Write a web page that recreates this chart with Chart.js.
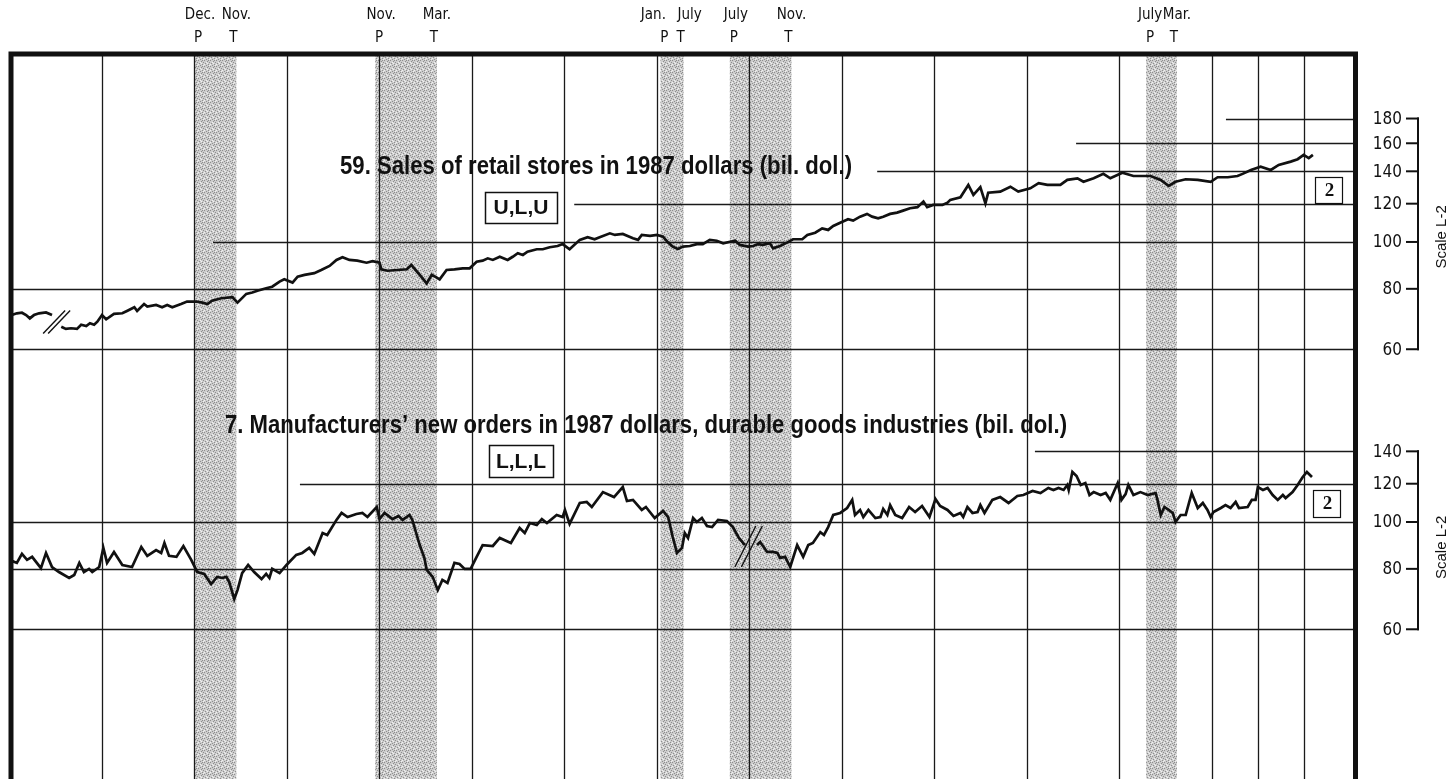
<!DOCTYPE html>
<html>
<head>
<meta charset="utf-8">
<script src="https://cdn.jsdelivr.net/npm/chart.js@4.4.0/dist/chart.umd.min.js"></script>
<style>
  html, body { margin: 0; padding: 0; background: #fff; }
  #wrap { position: relative; width: 1453px; height: 779px; }
</style>
</head>
<body>
<div id="wrap"><canvas id="chart"></canvas></div>
<script>
// 59. Sales of retail stores, 1987 dollars (bil. dol.) -- null marks the series break
var salesYears = [
  1966.06, 1966.17, 1966.28, 1966.37, 1966.45, 1966.54, 1966.65, 1966.80, 1966.93, 1967.03,
  1967.13, 1967.23, 1967.34, 1967.47, 1967.56, 1967.67, 1967.75, 1967.84, 1967.91, 1968.01,
  1968.10, 1968.27, 1968.45, 1968.55, 1968.71, 1968.77, 1968.92, 1968.99, 1969.18, 1969.31,
  1969.42, 1969.53, 1969.72, 1969.85, 1970.05, 1970.18, 1970.29, 1970.39, 1970.59, 1970.83,
  1970.94, 1971.13, 1971.26, 1971.37, 1971.56, 1971.69, 1971.85, 1971.95, 1972.13, 1972.24,
  1972.39, 1972.60, 1972.75, 1972.93, 1973.08, 1973.21, 1973.36, 1973.53, 1973.73, 1973.86,
  1974.01, 1974.05, 1974.18, 1974.40, 1974.60, 1974.70, 1974.88, 1975.03, 1975.14, 1975.24,
  1975.31, 1975.46, 1975.63, 1975.81, 1975.96, 1976.11, 1976.24, 1976.35, 1976.46, 1976.61,
  1976.78, 1976.89, 1977.00, 1977.11, 1977.21, 1977.41, 1977.54, 1977.69, 1977.86, 1977.97,
  1978.12, 1978.34, 1978.51, 1978.66, 1978.77, 1978.99, 1979.10, 1979.27, 1979.49, 1979.60,
  1979.68, 1979.86, 1980.01, 1980.14, 1980.25, 1980.35, 1980.46, 1980.57, 1980.72, 1980.87,
  1981.00, 1981.15, 1981.30, 1981.44, 1981.59, 1981.70, 1981.80, 1981.98, 1982.09, 1982.19,
  1982.30, 1982.45, 1982.52, 1982.67, 1982.82, 1982.95, 1983.15, 1983.26, 1983.43, 1983.58,
  1983.71, 1983.82, 1983.97, 1984.14, 1984.25, 1984.40, 1984.55, 1984.66, 1984.79, 1984.90,
  1985.05, 1985.20, 1985.33, 1985.48, 1985.64, 1985.77, 1985.85, 1985.98, 1986.18, 1986.29,
  1986.35, 1986.57, 1986.74, 1986.85, 1987.00, 1987.11, 1987.17, 1987.43, 1987.65, 1987.82,
  1988.08, 1988.26, 1988.45, 1988.73, 1988.88, 1989.10, 1989.23, 1989.45, 1989.66, 1989.81,
  1990.07, 1990.31, 1990.68, 1990.90, 1991.07, 1991.22, 1991.44, 1991.70, 1991.98, 1992.13,
  1992.35, 1992.56, 1992.67, 1992.85, 1993.06, 1993.28, 1993.45, 1993.71, 1993.86, 1993.99,
  1994.10, 1994.19
];
var salesValues = [
  70.6, 71.2, 71.4, 70.6, 69.5, 70.6, 71.2, 71.5, 70.6, null,
  66.8, 66.1, 66.3, 66.1, 67.4, 67.0, 67.9, 67.4, 68.4, 70.6,
  69.2, 71.0, 71.2, 72.0, 73.3, 72.0, 74.4, 73.5, 74.1, 73.3,
  74.1, 73.3, 74.4, 75.3, 75.3, 74.9, 74.4, 75.6, 76.5, 76.9,
  74.9, 78.1, 78.6, 79.3, 80.2, 80.8, 82.8, 83.7, 82.4, 84.8,
  85.5, 86.2, 87.5, 89.2, 91.8, 93.0, 91.8, 91.5, 90.6, 91.3,
  90.6, 87.8, 87.2, 87.5, 87.8, 89.6, 85.5, 82.1, 85.5, 84.5,
  83.7, 87.5, 87.8, 88.2, 88.2, 91.0, 91.5, 92.5, 91.8, 93.2,
  91.8, 93.2, 94.8, 94.0, 95.5, 96.6, 96.6, 97.5, 98.1, 99.0,
  96.6, 101.0, 102.3, 101.3, 102.3, 104.2, 103.4, 103.9, 101.8, 101.0,
  103.4, 102.9, 103.4, 102.6, 99.7, 97.8, 96.7, 97.8, 98.1, 99.0,
  99.0, 101.0, 100.6, 99.4, 100.1, 100.6, 98.6, 97.8, 98.1, 99.0,
  98.6, 99.4, 97.0, 98.1, 99.7, 101.3, 101.3, 103.4, 104.5, 106.7,
  105.9, 107.9, 109.6, 111.4, 110.7, 112.8, 114.3, 112.8, 111.9, 112.8,
  114.3, 115.0, 116.1, 117.4, 118.0, 121.2, 118.0, 119.3, 119.3, 120.6,
  122.2, 123.7, 131.2, 125.1, 129.8, 120.2, 126.4, 127.1, 130.1, 127.1,
  129.1, 132.3, 131.2, 131.2, 134.4, 135.4, 133.2, 135.4, 138.3, 135.4,
  139.1, 136.9, 136.9, 134.4, 130.6, 133.2, 134.8, 134.4, 133.2, 136.1,
  136.1, 136.9, 138.3, 140.9, 143.1, 140.9, 144.3, 146.6, 148.3, 151.4,
  149.1, 151.4
];

// 7. Manufacturers' new orders, durable goods, 1987 dollars (bil. dol.)
var ordersYears = [
  1966.06, 1966.17, 1966.28, 1966.39, 1966.50, 1966.69, 1966.80, 1966.93, 1967.08, 1967.30,
  1967.41, 1967.52, 1967.62, 1967.73, 1967.80, 1967.95, 1968.04, 1968.12, 1968.27, 1968.45,
  1968.66, 1968.86, 1968.99, 1969.18, 1969.29, 1969.36, 1969.46, 1969.62, 1969.77, 1969.94,
  1970.07, 1970.22, 1970.37, 1970.50, 1970.61, 1970.70, 1970.76, 1970.87, 1970.94, 1971.04,
  1971.17, 1971.30, 1971.46, 1971.56, 1971.63, 1971.69, 1971.85, 1972.00, 1972.21, 1972.34,
  1972.49, 1972.60, 1972.78, 1972.88, 1973.08, 1973.19, 1973.32, 1973.51, 1973.64, 1973.75,
  1973.95, 1974.01, 1974.12, 1974.29, 1974.42, 1974.51, 1974.66, 1974.72, 1974.88, 1974.98,
  1975.03, 1975.16, 1975.27, 1975.37, 1975.48, 1975.63, 1975.74, 1975.85, 1975.98, 1976.11,
  1976.24, 1976.46, 1976.61, 1976.85, 1977.04, 1977.15, 1977.26, 1977.41, 1977.52, 1977.63,
  1977.84, 1977.97, 1978.02, 1978.12, 1978.34, 1978.49, 1978.60, 1978.84, 1979.08, 1979.27,
  1979.36, 1979.49, 1979.68, 1979.77, 1979.96, 1980.14, 1980.25, 1980.35, 1980.44, 1980.55,
  1980.61, 1980.68, 1980.79, 1980.87, 1980.98, 1981.09, 1981.20, 1981.33, 1981.52, 1981.65,
  1981.78, 1981.91, 1982.04, 1982.17, 1982.24, 1982.39, 1982.52, 1982.61, 1982.67, 1982.78,
  1982.89, 1983.04, 1983.17, 1983.28, 1983.38, 1983.54, 1983.62, 1983.71, 1983.82, 1983.97,
  1984.12, 1984.23, 1984.29, 1984.40, 1984.47, 1984.58, 1984.73, 1984.84, 1984.90, 1984.99,
  1985.05, 1985.16, 1985.31, 1985.46, 1985.59, 1985.74, 1985.90, 1986.03, 1986.13, 1986.29,
  1986.42, 1986.57, 1986.63, 1986.72, 1986.83, 1986.94, 1987.00, 1987.09, 1987.26, 1987.43,
  1987.61, 1987.80, 1987.93, 1988.13, 1988.30, 1988.47, 1988.58, 1988.69, 1988.80, 1988.88,
  1988.91, 1988.99, 1989.08, 1989.17, 1989.27, 1989.36, 1989.45, 1989.60, 1989.71, 1989.81,
  1989.97, 1990.05, 1990.14, 1990.20, 1990.31, 1990.46, 1990.62, 1990.79, 1990.83, 1990.90,
  1990.98, 1991.07, 1991.16, 1991.22, 1991.33, 1991.44, 1991.57, 1991.70, 1991.81, 1991.91,
  1991.98, 1992.04, 1992.20, 1992.30, 1992.41, 1992.52, 1992.59, 1992.78, 1992.87, 1992.95,
  1993.00, 1993.11, 1993.21, 1993.32, 1993.43, 1993.54, 1993.60, 1993.75, 1993.86, 1993.97,
  1994.06, 1994.17
];
var ordersValues = [
  83.1, 82.3, 85.9, 83.5, 84.7, 80.3, 86.3, 80.7, 78.8, 76.6,
  77.7, 82.3, 78.8, 80.0, 78.8, 80.7, 88.4, 82.3, 86.7, 81.5,
  80.7, 88.8, 85.1, 87.5, 86.3, 90.5, 85.1, 84.7, 89.2, 83.5,
  78.8, 78.1, 74.4, 77.0, 76.6, 77.0, 75.1, 69.3, 72.3, 78.4,
  81.5, 78.8, 76.2, 78.1, 76.6, 80.0, 78.4, 81.5, 85.5, 86.3,
  88.4, 85.9, 94.9, 94.0, 101.0, 104.4, 102.4, 103.9, 104.4, 102.4,
  107.4, 101.4, 104.4, 101.4, 102.9, 101.0, 103.4, 101.0, 89.6, 84.3,
  79.6, 77.0, 72.3, 75.9, 74.8, 82.3, 81.9, 80.0, 80.0, 84.7,
  89.6, 89.2, 92.7, 90.5, 97.2, 94.9, 99.5, 98.6, 101.4, 99.5,
  103.4, 102.4, 105.9, 99.1, 109.5, 110.0, 107.4, 115.3, 112.6, 118.1,
  110.5, 111.1, 105.9, 107.4, 101.9, 105.4, 102.4, 93.1, 86.3, 88.4,
  94.9, 92.7, 101.9, 100.0, 101.9, 98.1, 97.6, 101.0, 100.5, 97.6,
  92.7, 89.6, null, 89.6, 90.9, 86.7, 86.7, 86.3, 84.3, 84.7,
  80.7, 89.6, 84.7, 89.6, 90.5, 95.3, 94.0, 97.6, 103.4, 104.4,
  106.9, 111.1, 103.4, 105.9, 102.4, 105.9, 101.9, 102.4, 106.4, 103.4,
  108.4, 103.4, 101.9, 107.4, 104.9, 107.9, 102.4, 111.6, 107.9, 105.9,
  102.9, 104.4, 102.4, 107.4, 104.4, 104.9, 108.4, 104.4, 111.1, 112.6,
  109.5, 113.2, 113.7, 115.9, 114.8, 117.6, 116.5, 117.6, 116.5, 119.3,
  116.5, 126.9, 124.5, 119.3, 120.4, 113.7, 115.3, 113.7, 114.8, 111.1,
  120.4, 111.1, 114.2, 119.3, 113.7, 115.3, 113.7, 114.8, 111.1, 103.4,
  107.4, 105.9, 104.4, 100.0, 103.4, 103.4, 114.8, 106.9, 109.5, 105.9,
  102.4, 104.9, 106.9, 108.4, 106.9, 110.0, 106.9, 107.4, 111.1, 111.1,
  118.1, 116.5, 117.6, 113.7, 111.1, 113.7, 112.1, 115.3, 119.3, 123.9,
  126.9, 123.9
];

// business cycle peaks (P) and troughs (T): month name, year, month number
var peakMonths   = ['Dec.', 'Nov.', 'Jan.', 'July', 'July'];
var peakDates    = [[1969, 12], [1973, 11], [1980, 1], [1981, 7], [1990, 7]];
var troughMonths = ['Nov.', 'Mar.', 'July', 'Nov.', 'Mar.'];
var troughDates  = [[1970, 11], [1975, 3], [1980, 7], [1982, 11], [1991, 3]];

var topTicks = [60, 80, 100, 120, 140, 160, 180];
var bottomTicks = [60, 80, 100, 120, 140];
var gridYears = [1968, 1970, 1972, 1974, 1976, 1978, 1980, 1982, 1984, 1986, 1988, 1990, 1992, 1993, 1994];

function toPoints(xs, ys) {
    var pts = [];
    for (var i = 0; i < xs.length; i++) pts.push({ x: xs[i], y: ys[i] });
    return pts;
}

// horizontal rules: value and the year where the rule starts
var topRules = [[60, 1966], [80, 1966], [100, 1970.41], [120, 1978.22], [140, 1984.77], [160, 1989.07], [180, 1992.31]];
var bottomRules = [[60, 1966], [80, 1966], [100, 1966], [120, 1972.29], [140, 1988.18]];

var condensed = '"Liberation Sans Narrow", "DejaVu Sans Condensed", Arial, sans-serif';
var sans = '"Liberation Sans", Arial, Helvetica, sans-serif';

// small fixed dot texture for the recession bands
function stipple(ctx) {
    var c = document.createElement('canvas');
    c.width = 6; c.height = 6;
    var g = c.getContext('2d');
    g.fillStyle = '#cdcdcd';
    g.fillRect(0, 0, 6, 6);
    g.fillStyle = '#8e8e8e';
    [[0, 0], [3, 1], [1, 3], [4, 4], [5, 2], [2, 5], [4, 0]].forEach(function (p) { g.fillRect(p[0], p[1], 1, 1); });
    g.fillStyle = '#f0f0f0';
    [[2, 2], [5, 5], [0, 4], [3, 3]].forEach(function (p) { g.fillRect(p[0], p[1], 1, 1); });
    return ctx.createPattern(c, 'repeat');
}

var bcdPlugin = {
    id: 'bcd',
    beforeDatasetsDraw: function (chart) {
        var ctx = chart.ctx, a = chart.chartArea;
        var x = chart.scales.x, yT = chart.scales.yTop, yB = chart.scales.yBot;
        var H = chart.height;
        ctx.save();
        // recession shading
        ctx.fillStyle = stipple(ctx);
        for (var i = 0; i < peakDates.length; i++) {
            var x1 = x.getPixelForValue(peakDates[i][0] + peakDates[i][1] / 12);
            var x2 = x.getPixelForValue(troughDates[i][0] + troughDates[i][1] / 12);
            ctx.fillRect(x1, a.top, x2 - x1, H - a.top);
        }
        // vertical year rules
        ctx.strokeStyle = '#1a1a1a';
        ctx.lineWidth = 1.3;
        gridYears.forEach(function (yr) {
            var px = Math.round(x.getPixelForValue(yr)) + 0.5;
            ctx.beginPath(); ctx.moveTo(px, a.top); ctx.lineTo(px, H); ctx.stroke();
        });
        // horizontal value rules
        ctx.lineWidth = 1.4;
        function rules(list, sc) {
            list.forEach(function (r) {
                var py = Math.round(sc.getPixelForValue(r[0])) + 0.5;
                ctx.beginPath(); ctx.moveTo(x.getPixelForValue(r[1]), py); ctx.lineTo(a.right, py); ctx.stroke();
            });
        }
        rules(topRules, yT);
        rules(bottomRules, yB);
        ctx.restore();
    },
    afterDatasetsDraw: function (chart) {
        var ctx = chart.ctx;
        var x = chart.scales.x, yT = chart.scales.yTop, yB = chart.scales.yBot;
        ctx.save();
        ctx.fillStyle = '#111';
        ctx.strokeStyle = '#111';

        // series titles
        ctx.textBaseline = 'alphabetic';
        ctx.textAlign = 'left';
        ctx.font = 'bold 25px ' + sans;
        ctx.fillText('59. Sales of retail stores in 1987 dollars (bil. dol.)', 340, 174, 512);
        ctx.fillText('7. Manufacturers\u2019 new orders in 1987 dollars, durable goods industries (bil. dol.)', 225, 433, 842);

        // timing classification boxes
        function codeBox(txt, bx, by, bw, bh) {
            ctx.fillStyle = '#fff';
            ctx.fillRect(bx, by, bw, bh);
            ctx.lineWidth = 1.5;
            ctx.strokeRect(bx + 0.5, by + 0.5, bw, bh);
            ctx.fillStyle = '#111';
            ctx.font = 'bold 21px ' + sans;
            ctx.textAlign = 'center';
            ctx.textBaseline = 'middle';
            ctx.fillText(txt, bx + bw / 2, by + bh / 2 + 1, bw - 12);
        }
        codeBox('U,L,U', 485, 192, 72, 31);
        codeBox('L,L,L', 489, 445, 64, 32);

        // scale reference boxes
        function refBox(bx, by, bw, bh) {
            ctx.fillStyle = '#fff';
            ctx.fillRect(bx, by, bw, bh);
            ctx.lineWidth = 1.2;
            ctx.strokeRect(bx + 0.5, by + 0.5, bw, bh);
            ctx.fillStyle = '#111';
            ctx.font = 'bold 19px "Liberation Serif", "Times New Roman", serif';
            ctx.textAlign = 'center';
            ctx.textBaseline = 'middle';
            ctx.fillText('2', bx + bw / 2 + 1, by + bh / 2 + 1);
        }
        refBox(1315, 177, 27, 26);
        refBox(1313, 490, 27, 27);

        // series break marks
        ctx.lineWidth = 1.4;
        function breakMark(sc, yr, val, dx, dy, gap) {
            var cx = x.getPixelForValue(yr), cy = sc.getPixelForValue(val);
            [-gap / 2, gap / 2].forEach(function (o) {
                ctx.beginPath();
                ctx.moveTo(cx + o - dx, cy + dy);
                ctx.lineTo(cx + o + dx, cy - dy);
                ctx.stroke();
            });
        }
        breakMark(yT, 1967.03, 68.3, 11, 11.5, 5);
        breakMark(yB, 1981.99, 89.0, 10.5, 20.5, 6.5);
        ctx.restore();
    },
    afterDraw: function (chart) {
        var ctx = chart.ctx;
        var x = chart.scales.x, yT = chart.scales.yTop, yB = chart.scales.yBot;
        var H = chart.height;
        ctx.save();
        ctx.fillStyle = '#111';
        ctx.strokeStyle = '#111';

        // frame
        ctx.lineWidth = 5;
        ctx.beginPath();
        ctx.moveTo(11, H); ctx.lineTo(11, 54); ctx.lineTo(1355.5, 54); ctx.lineTo(1355.5, H);
        ctx.stroke();

        // peak / trough labels above the frame
        var monthShift = { '1980P': -13, '1980T': 6, '1990P': -2, '1990T': 7 };
        ctx.font = '15px ' + condensed;
        ctx.textAlign = 'center';
        ctx.textBaseline = 'middle';
        for (var i = 0; i < peakDates.length; i++) {
            var xp = x.getPixelForValue(peakDates[i][0] + peakDates[i][1] / 12) + 4;
            var xt = x.getPixelForValue(troughDates[i][0] + troughDates[i][1] / 12) - 3;
            var kp = peakDates[i][0] + 'P', kt = troughDates[i][0] + 'T';
            ctx.fillText(peakMonths[i], xp + 2 + (monthShift[kp] || 0), 15);
            ctx.fillText(troughMonths[i], xt + 3 + (monthShift[kt] || 0), 15);
            ctx.fillText('P', xp, 38);
            ctx.fillText('T', xt, 38);
        }

        // right-hand ratio scales
        function ratioScale(sc, ticks, midShift) {
            var tx = 1418;
            var yTopPx = sc.getPixelForValue(ticks[ticks.length - 1]);
            var yBotPx = sc.getPixelForValue(ticks[0]);
            ctx.lineWidth = 2;
            ctx.beginPath(); ctx.moveTo(tx, yTopPx - 1); ctx.lineTo(tx, yBotPx + 1); ctx.stroke();
            ctx.font = '17px ' + condensed;
            ctx.textAlign = 'right';
            ctx.textBaseline = 'middle';
            ticks.forEach(function (t) {
                var py = sc.getPixelForValue(t);
                ctx.beginPath(); ctx.moveTo(1406, py); ctx.lineTo(tx + 1, py); ctx.stroke();
                ctx.fillText(String(t), 1402, py + 1);
            });
            ctx.save();
            ctx.translate(1442, (yTopPx + yBotPx) / 2 + midShift);
            ctx.rotate(-Math.PI / 2);
            ctx.textAlign = 'center';
            ctx.font = '15px ' + sans;
            ctx.fillText('Scale L-2', 0, 0);
            ctx.restore();
        }
        ratioScale(yT, topTicks, 3);
        ratioScale(yB, bottomTicks, 7);
        ctx.restore();
    }
};

var ctx = document.getElementById('chart');
new Chart(ctx, {
    type: 'line',
    data: {
        datasets: [{
            label: 'Sales of retail stores',
            data: toPoints(salesYears, salesValues),
            yAxisID: 'yTop',
            borderColor: '#111',
            borderWidth: 2.7,
            pointRadius: 0,
            tension: 0,
            spanGaps: false
        }, {
            label: 'New orders, durable goods',
            data: toPoints(ordersYears, ordersValues),
            yAxisID: 'yBot',
            borderColor: '#111',
            borderWidth: 2.7,
            pointRadius: 0,
            tension: 0,
            spanGaps: false
        }]
    },
    options: {
        responsive: true,
        maintainAspectRatio: false,
        animation: false,
        layout: { padding: { left: 9, right: 98, top: 55, bottom: 0 } },
        plugins: { legend: { display: false }, tooltip: { enabled: false } },
        scales: {
            x: { type: 'linear', min: 1966, max: 1995.1, bounds: 'data', display: false },
            yTop: { type: 'logarithmic', min: 7.75, max: 243.6, bounds: 'data', display: false },
            yBot: { type: 'logarithmic', min: 29.41, max: 924.3, bounds: 'data', display: false }
        }
    },
    plugins: [bcdPlugin]
});
</script>
</body>
</html>
